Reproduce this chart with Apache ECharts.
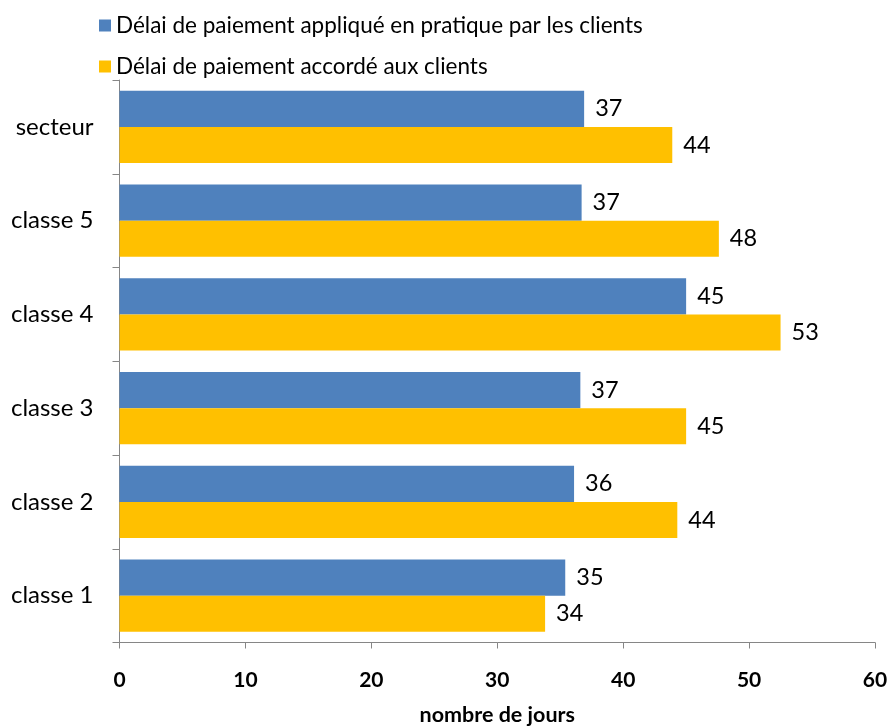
<!DOCTYPE html>
<html>
<head>
<meta charset="utf-8">
<script src="https://cdn.jsdelivr.net/npm/echarts@6/dist/echarts.min.js"></script>
<style>
  html, body { margin: 0; padding: 0; background: #fff; }
  #main { width: 890px; height: 728px; }
</style>
</head>
<body>
<div id="main"></div>
<script>
const categories = ['classe 1', 'classe 2', 'classe 3', 'classe 4', 'classe 5', 'secteur']
const appliedValues = [35.4, 36.1, 36.6, 45.0, 36.7, 36.9]
const grantedValues = [33.8, 44.3, 45.0, 52.5, 47.6, 43.9]
const appliedName = 'Délai de paiement appliqué en pratique par les clients'
const grantedName = 'Délai de paiement accordé aux clients'

const font = 'Lato, "Liberation Sans", sans-serif'

let myChart = echarts.init(document.getElementById('main'))

const labelOpt = {
    show: true,
    position: 'right',
    distance: 11,
    color: '#000',
    fontFamily: font,
    fontSize: 23.5,
    formatter: p => Math.round(p.value)
}

myChart.setOption({
    animation: false,
    textStyle: { fontFamily: font },
    legend: {
        data: [appliedName, grantedName],
        orient: 'vertical',
        left: 94,
        top: 9,
        itemWidth: 12,
        itemHeight: 12,
        itemGap: 18,
        icon: 'rect',
        textStyle: { fontSize: 22.5, color: '#000', fontFamily: font }
    },
    grid: {
        left: 119.5,
        right: 15,
        top: 80,
        bottom: 85.5,
        containLabel: false,
        outerBoundsMode: 'none'
    },
    xAxis: {
        type: 'value',
        min: 0,
        max: 60,
        interval: 10,
        name: 'nombre de jours',
        nameLocation: 'middle',
        nameGap: 62,
        nameTextStyle: { fontSize: 21.5, fontWeight: 'bold', color: '#000', fontFamily: font },
        axisLine: { show: true, lineStyle: { color: '#868686', width: 1 } },
        axisTick: { show: true, length: 6, lineStyle: { color: '#868686' } },
        splitLine: { show: false },
        axisLabel: { fontSize: 21, fontWeight: 'bold', color: '#000', margin: 27, fontFamily: font }
    },
    yAxis: {
        type: 'category',
        data: categories,
        axisLine: { show: true, lineStyle: { color: '#868686', width: 1 } },
        axisTick: { show: true, length: 7, lineStyle: { color: '#868686' } },
        axisLabel: { fontSize: 24, color: '#000', margin: 26, fontFamily: font }
    },
    series: [{
        name: appliedName,
        type: 'bar',
        data: appliedValues,
        barGap: '0%',
        barCategoryGap: '23%',
        itemStyle: { color: '#4F81BD' },
        label: labelOpt
    }, {
        name: grantedName,
        type: 'bar',
        data: grantedValues,
        barGap: '0%',
        barCategoryGap: '23%',
        itemStyle: { color: '#FFC000' },
        label: labelOpt
    }]
})
</script>
</body>
</html>
